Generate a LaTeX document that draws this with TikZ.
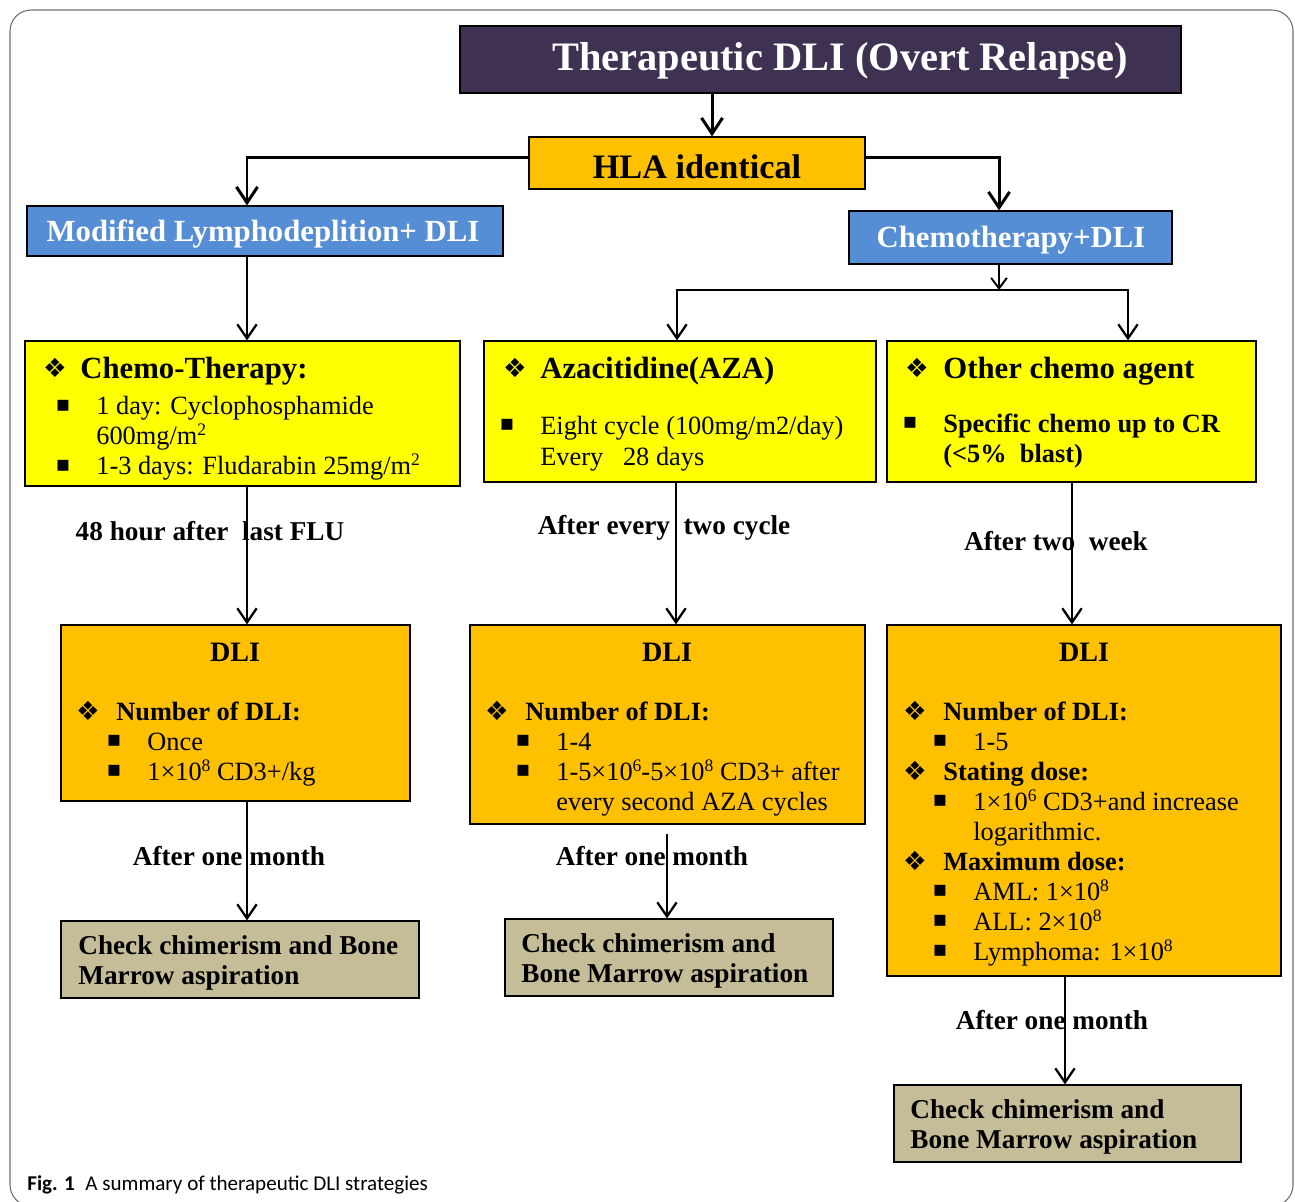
\documentclass[tikz,border=0pt]{standalone}
\usepackage{fontspec}
\setmainfont{Liberation Serif}
\newfontfamily\dingfont{DejaVu Sans}
\newfontfamily\capfont{Carlito}
\usetikzlibrary{arrows.meta,fit}

\definecolor{relapsepurple}{HTML}{3F3151}
\definecolor{hlaorange}{HTML}{FFC000}
\definecolor{armblue}{HTML}{558ED5}
\definecolor{chemoyellow}{HTML}{FFFF00}
\definecolor{checktan}{HTML}{C4BD97}
\definecolor{framegray}{HTML}{6E6E6E}

\newcommand{\fsz}[1]{\fontsize{#1}{#1}\selectfont}
\newcommand{\diam}{{\dingfont\fsz{15}❖}}
\newcommand{\sqbul}{{\dingfont\fsz{12.5}▪}}
\newcommand{\sups}[1]{\raisebox{0.75ex}{\fsz{10}#1}}

\begin{document}
\begin{tikzpicture}[x=0.02cm, y=-0.02cm,
    box/.style={draw=black, line width=0.7pt, inner sep=0pt},
    boxtxt/.style={font=\fsz{17.5}\bfseries, text=white, inner sep=0pt},
    head/.style={anchor=west, font=\fsz{17.5}\bfseries, text height=12pt, text depth=0pt, inner sep=0pt},
    txt/.style={anchor=west, font=\fsz{15}, text height=10pt, text depth=0pt, inner sep=0pt},
    btxt/.style={txt, font=\fsz{15}\bfseries},
    sym/.style={inner sep=0pt},
    lbl/.style={font=\fsz{15.5}\bfseries, inner sep=0pt},
    chk/.style={anchor=west, align=left, font=\fontsize{15.5}{17.5}\selectfont\bfseries, inner sep=0pt},
    arr/.style={line width=1.7pt, -{Straight Barb[length=9pt, width=12pt, line width=1.7pt]}},
    thinarr/.style={line width=1.3pt, -{Straight Barb[length=8pt, width=11pt, line width=1.3pt]}},
    smallarr/.style={line width=1.1pt, -{Straight Barb[length=6pt, width=9pt, line width=1.1pt]}},
  ]
  \useasboundingbox (0,0) rectangle (1295,1202);

  % outer frame
  \draw[framegray, line width=0.6pt, rounded corners=12pt] (10,1206) rectangle (1293,10);

  % column positions of the connectors
  \coordinate (colT) at (712,0);
  \coordinate (colA) at (247,0);
  \coordinate (colR) at (999,0);
  \coordinate (colB) at (676,0);
  \coordinate (colB2) at (667,0);
  \coordinate (colC) at (1072,0);
  \coordinate (colC2) at (1065,0);
  \coordinate (brL) at (677,290);
  \coordinate (brM) at (999,290);
  \coordinate (brR) at (1128,290);

  % top boxes
  \node[box, fill=relapsepurple, fit={(460,26) (1181,93)}] (title) {};
  \node[boxtxt, font=\fsz{23}\bfseries] (titletxt) at (840,61) {Therapeutic DLI (Overt Relapse)};
  \node[box, fill=hlaorange, fit={(529,137) (865,189)}] (hla) {};
  \node[boxtxt, font=\fsz{19.5}\bfseries, text=black] (hlatxt) at (697,167) {HLA identical};
  \node[box, fill=armblue, fit={(27,206) (503,256)}] (mod) {};
  \node[boxtxt] (modtxt) at (263,234) {Modified Lymphodeplition+ DLI};
  \node[box, fill=armblue, fit={(849,211) (1172,264)}] (chemo) {};
  \node[boxtxt] (chemotxt) at (1011,240) {Chemotherapy+DLI};

  % chemo boxes
  \node[box, fill=chemoyellow, fit={(25,341) (460,486)}] (ct) {};
  \node[box, fill=chemoyellow, fit={(484,341) (876,482)}] (aza) {};
  \node[box, fill=chemoyellow, fit={(887,341) (1256,482)}] (other) {};

  % DLI boxes
  \node[box, fill=hlaorange, fit={(61,625) (410,801)}] (dlia) {};
  \node[box, fill=hlaorange, fit={(470,625) (865,824)}] (dlib) {};
  \node[box, fill=hlaorange, fit={(887,625) (1281,976)}] (dlic) {};

  % check boxes
  \node[box, fill=checktan, fit={(61,921) (419,998)}] (cka) {};
  \node[box, fill=checktan, fit={(505,919) (833,996)}] (ckb) {};
  \node[box, fill=checktan, fit={(894,1085) (1241,1162)}] (ckc) {};

  % Chemo-Therapy
  \node[sym] (ctd) at (55,368) {\diam};
  \node[head] (cth) at (80,368) {Chemo-Therapy:};
  \foreach \y in {406,466} \node[sym] (ctb\y) at (63,\y) {\sqbul};
  \foreach \y/\t [count=\i] in {406/{1 day: Cyclophosphamide}, 436/{600mg/m\sups{2}}, 466/{1-3 days: Fludarabin 25mg/m\sups{2}}}
    \node[txt] (ct\i) at (96,\y) {\t};

  % Azacitidine
  \node[sym] (azad) at (515,368) {\diam};
  \node[head] (azah) at (540,368) {Azacitidine(AZA)};
  \node[sym] (azab) at (507,425) {\sqbul};
  \node[txt] (aza1) at (540,426) {Eight cycle (100mg/m2/day)};
  \node[txt] (aza2) at (540,457) {Every\enspace\ 28 days};

  % Other chemo agent
  \node[sym] (othd) at (917,368) {\diam};
  \node[head] (othh) at (943,368) {Other chemo agent};
  \node[sym] (othb) at (910,423) {\sqbul};
  \node[btxt] (oth1) at (943,424) {Specific chemo up to CR};
  \node[btxt] (oth2) at (943,454) {(<5\%\enspace blast)};

  % DLI, first arm
  \node[font=\fsz{16}\bfseries] (dliat) at (235,652) {DLI};
  \node[sym] (dliad) at (88,711) {\diam};
  \node[btxt] (dliah) at (116,712) {Number of DLI:};
  \foreach \y in {741,771} \node[sym] (dliab\y) at (114,\y) {\sqbul};
  \node[txt] (dlia1) at (147,742) {Once};
  \node[txt] (dlia2) at (147,772) {1×10\sups{8} CD3+/kg};

  % DLI, AZA arm
  \node[font=\fsz{16}\bfseries] (dlibt) at (667,652) {DLI};
  \node[sym] (dlibd) at (497,711) {\diam};
  \node[btxt] (dlibh) at (525,712) {Number of DLI:};
  \foreach \y in {741,771} \node[sym] (dlibb\y) at (523,\y) {\sqbul};
  \foreach \y/\t [count=\i] in {742/{1-4}, 772/{1-5×10\sups{6}-5×10\sups{8} CD3+ after}, 802/{every second AZA cycles}}
    \node[txt] (dlib\i) at (556,\y) {\t};

  % DLI, other chemo arm
  \node[font=\fsz{16}\bfseries] (dlict) at (1084,652) {DLI};
  \foreach \y/\t [count=\i] in {712/{Number of DLI:}, 772/{Stating dose:}, 862/{Maximum dose:}} {
    \node[sym] (dlicd\i) at (915,\y-1) {\diam};
    \node[btxt] (dlich\i) at (943,\y) {\t};
  }
  \foreach \y in {741,801,891,921,951} \node[sym] (dlicb\y) at (940,\y) {\sqbul};
  \foreach \y/\t [count=\i] in {742/{1-5}, 802/{1×10\sups{6} CD3+and increase}, 832/{logarithmic.}, 892/{AML: 1×10\sups{8}}, 922/{ALL: 2×10\sups{8}}, 952/{Lymphoma: 1×10\sups{8}}}
    \node[txt] (dlic\i) at (973,\y) {\t};

  % check boxes text
  \node[chk] (ckat) at (78,963) {Check chimerism and Bone\\Marrow aspiration};
  \node[chk] (ckbt) at (521,961) {Check chimerism and\\Bone Marrow aspiration};
  \node[chk] (ckct) at (910,1127) {Check chimerism and\\Bone Marrow aspiration};

  % edge labels
  \node[lbl] (la1) at (210,531) {48 hour after\enspace last FLU};
  \node[lbl] (lb1) at (664,528) {After every\enspace two cycle};
  \node[lbl] (lc1) at (1056,541) {After two\enspace week};
  \node[lbl] (la2) at (229,856) {After one month};
  \node[lbl] (lb2) at (652,856) {After one month};
  \node[lbl] (lc2) at (1052,1020) {After one month};

  % connectors
  \draw[arr] (title.south -| colT) -- (hla.north -| colT);
  \draw[arr] ([yshift=3pt]hla.west) -| (mod.north -| colA);
  \draw[arr] ([yshift=3pt]hla.east) -| (chemo.north -| colR);
  \draw[thinarr] (mod.south -| colA) -- (ct.north -| colA);
  \draw[smallarr] (chemo.south -| brM) -- (brM);
  \draw[thinarr] (brM) -- (brL) -- (aza.north -| brL);
  \draw[thinarr] (brM) -- (brR) -- (other.north -| brR);
  \draw[thinarr] (ct.south -| colA) -- (dlia.north -| colA);
  \draw[thinarr] (aza.south -| colB) -- (dlib.north -| colB);
  \draw[thinarr] (other.south -| colC) -- (dlic.north -| colC);
  \draw[thinarr] (dlia.south -| colA) -- (cka.north -| colA);
  \draw[thinarr] (dlib.south -| colB2) ++(0,9) -- (ckb.north -| colB2);
  \draw[thinarr] (dlic.south -| colC2) -- (ckc.north -| colC2);

  % caption
  \node[anchor=base west, font=\capfont\fsz{12}, inner sep=0pt] (caption) at (27,1190) {\textbf{Fig. 1}\enspace A summary of therapeutic DLI strategies};
\end{tikzpicture}
\end{document}
